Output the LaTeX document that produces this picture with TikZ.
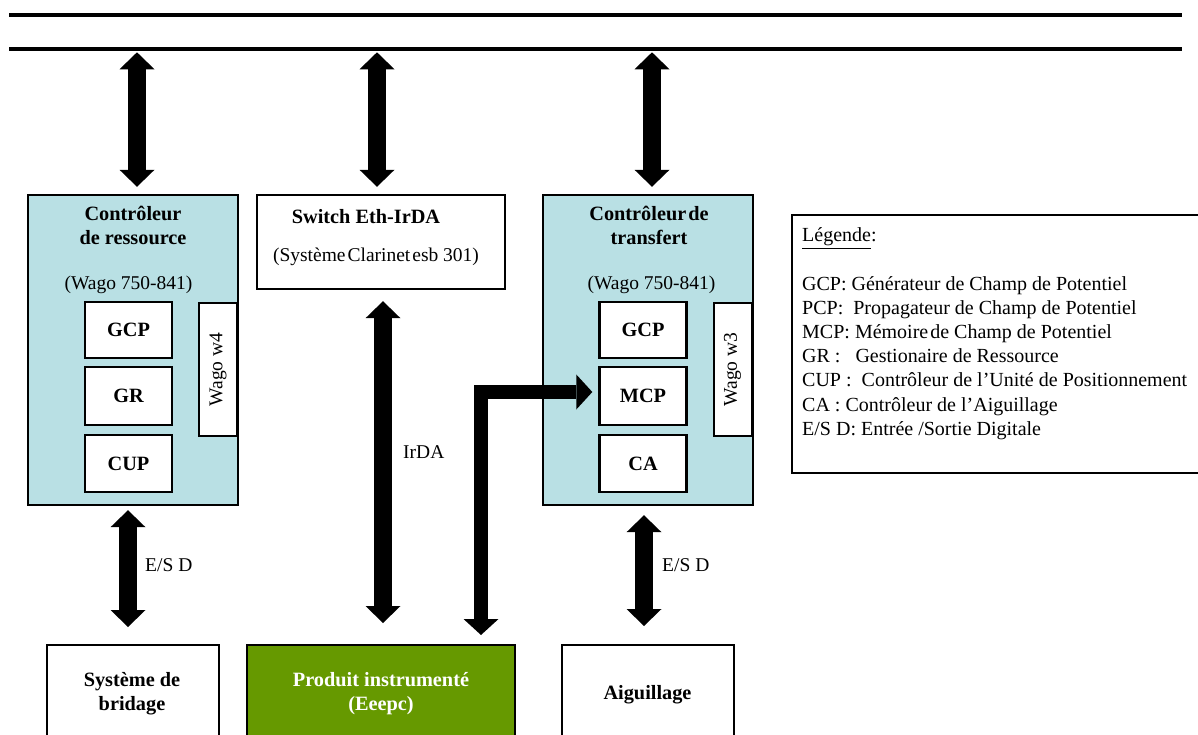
\documentclass[tikz,border=0pt]{standalone}
\usepackage{fontspec}
\setmainfont{Liberation Serif}
\usetikzlibrary{arrows.meta,calc}
\definecolor{ctrlblue}{RGB}{185,224,228}
\definecolor{prodgreen}{RGB}{102,153,0}
\newcommand\boxfont{\fontsize{19.5}{24}\selectfont}
\newcommand\titlefont{\fontsize{20.3}{24}\selectfont}
\newcommand\legfont{\fontsize{20}{24.2}\selectfont}
\begin{document}
\begin{tikzpicture}[x=1pt,y=-1pt,
  bus/.style={fill=black,inner sep=0pt,minimum width=1173pt,minimum height=4.6pt},
  ctrlbox/.style={draw=black,line width=2.4pt,fill=ctrlblue,minimum width=210pt,minimum height=310pt,inner sep=0pt},
  modbox/.style={draw=black,line width=2.4pt,fill=white,minimum width=87pt,inner sep=0pt,font=\titlefont\bfseries},
  wagobox/.style={draw=black,line width=2pt,fill=white,minimum width=38pt,minimum height=133pt,inner sep=0pt},
  plainbox/.style={draw=black,line width=2.4pt,fill=white,inner sep=0pt},
  lbl/.style={font=\boxfont,inner sep=0pt},
  title/.style={font=\titlefont\bfseries,align=center,inner sep=0pt},
  bigarrow/.style={line width=18pt,arrows={Triangle[width=35pt,length=17pt,line width=0pt]-Triangle[width=35pt,length=17pt,line width=0pt]}},
  elbowarrow/.style={line width=14pt,line join=miter,arrows={Triangle[width=35pt,length=16pt,line width=0pt]-Triangle[width=35pt,length=16pt,line width=0pt]}}
]
\useasboundingbox (0,0) rectangle (1198,735);

% network bus (two lines)
\node[bus] (busTop) at (595.5,15) {};
\node[bus] (busBot) at (595.5,49) {};

% resource controller
\node[ctrlbox] (ctrlR) at (133,350) {};
\node[title] (ctrlRt) at (133,225) {Contrôleur\\de ressource};
\node[lbl] (ctrlRw) at (128.5,285) {(Wago 750-841)};
\node[modbox,minimum height=56pt] (gcpR) at (128.5,330) {GCP};
\node[modbox,minimum height=58pt] (grR) at (128.5,396) {GR};
\node[modbox,minimum height=57pt] (cupR) at (128.5,463.5) {CUP};
\node[wagobox] (wagoR) at (218,369.5) {};
\node[lbl,rotate=90] (wagoRt) at (wagoR.center) {Wago w4};

% switch
\node[plainbox,minimum width=248pt,minimum height=94pt] (switch) at (381,242) {};
\node[title] (switchT) at (366,217) {Switch Eth-IrDA};
\node[lbl] (switchS) at (376,257) {(Système\hspace{0.1em}Clarinet\hspace{0.1em}esb 301)};

% transfer controller
\node[ctrlbox] (ctrlT) at (648,350) {};
\node[title] (ctrlTt) at (649,225) {Contrôleur\hspace{0.1em}de\\transfert};
\node[lbl] (ctrlTw) at (651.5,285) {(Wago 750-841)};
\node[modbox,minimum height=56pt] (gcpT) at (643,330) {GCP};
\node[modbox,minimum height=58pt] (mcpT) at (643,396) {MCP};
\node[modbox,minimum height=57pt] (caT) at (643,463.5) {CA};
\node[wagobox] (wagoT) at (732.5,369.5) {};
\node[lbl,rotate=90] (wagoTt) at (wagoT.center) {Wago w3};

% legend
\node[draw=black,line width=2pt,minimum width=409pt,minimum height=258pt,inner sep=0pt] (legend) at (996.5,344) {};
\node[font=\legfont,anchor=base west,inner sep=0pt] (legT) at (802,242) {\underline{Légende}:};
\node[font=\legfont,anchor=north west,align=left,inner sep=0pt] (legL) at (802,276) {%
GCP: Générateur de Champ de Potentiel\\
PCP:\ \ Propagateur de Champ de Potentiel\\
MCP: Mémoire\hspace{0.1em}de Champ de Potentiel\\
GR :\ \ \ Gestionaire de Ressource\\
CUP :\ \ Contrôleur de l’Unité de Positionnement\\
CA : Contrôleur de l’Aiguillage\\
E/S D: Entrée /Sortie Digitale};

% field devices
\node[plainbox,minimum width=172pt,minimum height=100pt,anchor=north] (bridage) at (133,644) {};
\node[title] (bridageT) at (132,694) {Système de\\bridage};
\node[plainbox,fill=prodgreen,minimum width=268pt,minimum height=100pt,anchor=north] (produit) at (381,644) {};
\node[title,text=white] (produitT) at (381,694) {Produit instrumenté\\(Eeepc)};
\node[plainbox,minimum width=172pt,minimum height=100pt,anchor=north] (aig) at (648,644) {};
\node[title] (aigT) at (647.5,695) {Aiguillage};

% bus links
\draw[bigarrow] ($(busBot.south -| ctrlR.north)+(4,0.8)$) -- ($(ctrlR.north)+(4,-7)$);
\draw[bigarrow] ($(busBot.south -| switch.north)+(-4,0.8)$) -- ($(switch.north)+(-4,-7)$);
\draw[bigarrow] ($(busBot.south -| ctrlT.north)+(4,0.8)$) -- ($(ctrlT.north)+(4,-7)$);

% IrDA link
\draw[bigarrow] ($(switch.south)+(2,11)$) -- ($(produit.north)+(2,-21)$);
\node[lbl,anchor=west] (irda) at (403,452) {IrDA};

% digital I/O links
\draw[bigarrow] ($(ctrlR.south)+(-5,4)$) -- ($(bridage.north)+(-5,-17)$);
\node[lbl,anchor=west] (esdL) at (145,565) {E/S D};
\draw[bigarrow] ($(ctrlT.south)+(-4,9)$) -- ($(aig.north)+(-4,-18)$);
\node[lbl,anchor=west] (esdR) at (662,565) {E/S D};

% product to potential field memory
\draw[elbowarrow] ($(produit.north)+(100,-9)$) |- ($(mcpT.west)+(-6,-4)$);
\end{tikzpicture}
\end{document}
